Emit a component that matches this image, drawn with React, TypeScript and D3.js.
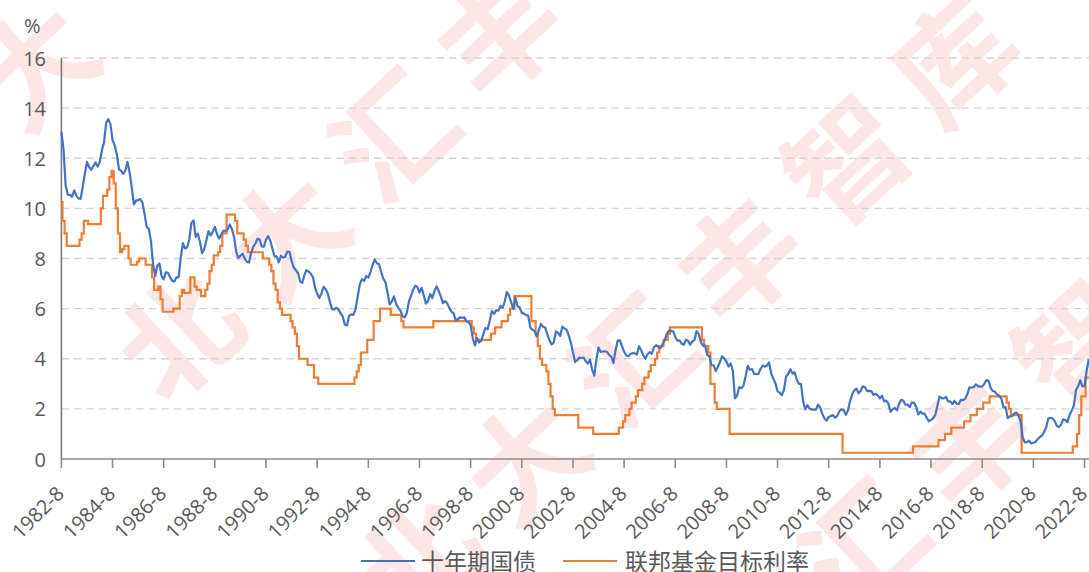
import React from "react";
import * as d3 from "d3";

// ---------- data ----------
const startYear = 1982;
const startMonth = 8;

// 十年期国债 monthly (1982-8 .. 2022-10)
const tenYearYield: number[] = [
  // 1982 Aug-Dec
  13.06, 12.34, 10.91, 10.55, 10.54,
  // 1983
  10.46, 10.72, 10.51, 10.40, 10.38, 10.85, 11.38, 11.85, 11.65, 11.54, 11.69, 11.83,
  // 1984
  11.67, 11.84, 12.32, 12.63, 13.41, 13.56, 13.36, 12.72, 12.52, 12.16, 11.57, 11.50,
  // 1985
  11.38, 11.51, 11.86, 11.43, 10.85, 10.16, 10.31, 10.33, 10.37, 10.24, 9.78, 9.26,
  // 1986
  9.19, 8.70, 7.78, 7.30, 7.71, 7.80, 7.30, 7.17, 7.45, 7.43, 7.25, 7.11,
  // 1987
  7.08, 7.25, 7.25, 8.02, 8.61, 8.40, 8.45, 8.76, 9.42, 9.52, 8.86, 8.99,
  // 1988
  8.67, 8.21, 8.37, 8.72, 9.09, 8.92, 9.06, 9.26, 8.98, 8.80, 8.96, 9.11,
  // 1989
  9.09, 9.17, 9.36, 9.18, 8.86, 8.28, 8.02, 8.11, 8.19, 8.01, 7.87, 7.84,
  // 1990
  8.21, 8.47, 8.59, 8.79, 8.76, 8.48, 8.47, 8.75, 8.89, 8.72, 8.39, 8.08,
  // 1991
  8.09, 7.85, 8.11, 8.04, 8.07, 8.28, 8.27, 7.90, 7.65, 7.53, 7.42, 7.09,
  // 1992
  7.03, 7.34, 7.54, 7.48, 7.39, 7.26, 6.84, 6.59, 6.42, 6.59, 6.87, 6.77,
  // 1993
  6.60, 6.26, 5.98, 5.97, 6.04, 5.96, 5.81, 5.68, 5.36, 5.33, 5.72, 5.77,
  // 1994
  5.75, 5.97, 6.48, 6.97, 7.18, 7.10, 7.30, 7.24, 7.46, 7.74, 7.96, 7.81,
  // 1995
  7.78, 7.47, 7.20, 7.06, 6.63, 6.17, 6.28, 6.49, 6.20, 6.04, 5.93, 5.71,
  // 1996
  5.65, 5.81, 6.27, 6.51, 6.74, 6.91, 6.87, 6.64, 6.83, 6.53, 6.20, 6.30,
  // 1997
  6.58, 6.42, 6.69, 6.89, 6.71, 6.49, 6.22, 6.30, 6.21, 6.03, 5.88, 5.81,
  // 1998
  5.54, 5.57, 5.65, 5.64, 5.65, 5.50, 5.46, 5.34, 4.81, 4.53, 4.83, 4.65,
  // 1999
  4.72, 5.00, 5.23, 5.18, 5.54, 5.90, 5.79, 5.94, 5.92, 6.11, 6.03, 6.28,
  // 2000
  6.66, 6.52, 6.26, 5.99, 6.44, 6.10, 6.05, 5.83, 5.80, 5.74, 5.72, 5.24,
  // 2001
  5.16, 5.10, 4.89, 5.14, 5.39, 5.28, 5.24, 4.97, 4.73, 4.57, 4.65, 5.09,
  // 2002
  5.04, 4.91, 5.28, 5.21, 5.16, 4.93, 4.65, 4.26, 3.87, 3.94, 4.05, 4.03,
  // 2003
  4.05, 3.90, 3.81, 3.96, 3.57, 3.33, 3.98, 4.45, 4.27, 4.29, 4.30, 4.27,
  // 2004
  4.15, 4.08, 3.83, 4.35, 4.72, 4.73, 4.50, 4.28, 4.13, 4.10, 4.19, 4.23,
  // 2005
  4.22, 4.17, 4.50, 4.34, 4.14, 4.00, 4.18, 4.26, 4.20, 4.46, 4.54, 4.47,
  // 2006
  4.42, 4.57, 4.72, 4.99, 5.11, 5.11, 5.09, 4.88, 4.72, 4.73, 4.60, 4.56,
  // 2007
  4.76, 4.72, 4.56, 4.69, 4.75, 5.10, 5.00, 4.67, 4.52, 4.53, 4.15, 4.10,
  // 2008
  3.74, 3.74, 3.51, 3.68, 3.88, 4.10, 4.01, 3.89, 3.69, 3.81, 3.53, 2.42,
  // 2009
  2.52, 2.87, 2.82, 2.93, 3.29, 3.72, 3.56, 3.59, 3.40, 3.39, 3.40, 3.59,
  // 2010
  3.73, 3.69, 3.73, 3.85, 3.42, 3.20, 3.01, 2.70, 2.65, 2.54, 2.76, 3.29,
  // 2011
  3.39, 3.58, 3.41, 3.46, 3.17, 3.00, 3.00, 2.30, 1.98, 2.15, 2.01, 1.98,
  // 2012
  1.97, 1.97, 2.17, 2.05, 1.80, 1.62, 1.53, 1.68, 1.72, 1.75, 1.65, 1.72,
  // 2013
  1.91, 1.98, 1.96, 1.76, 1.93, 2.30, 2.58, 2.74, 2.81, 2.62, 2.72, 2.90,
  // 2014
  2.86, 2.71, 2.72, 2.71, 2.56, 2.60, 2.54, 2.42, 2.53, 2.30, 2.33, 2.21,
  // 2015
  1.88, 1.98, 2.04, 1.94, 2.20, 2.36, 2.32, 2.17, 2.17, 2.07, 2.26, 2.24,
  // 2016
  2.09, 1.78, 1.89, 1.81, 1.81, 1.64, 1.50, 1.56, 1.63, 1.76, 2.14, 2.49,
  // 2017
  2.43, 2.42, 2.48, 2.30, 2.30, 2.19, 2.32, 2.21, 2.20, 2.36, 2.35, 2.40,
  // 2018
  2.58, 2.86, 2.84, 2.87, 2.98, 2.91, 2.89, 2.89, 3.00, 3.15, 3.12, 2.83,
  // 2019
  2.71, 2.68, 2.57, 2.53, 2.40, 2.07, 2.06, 1.63, 1.70, 1.71, 1.81, 1.86,
  // 2020
  1.76, 1.50, 0.87, 0.66, 0.67, 0.73, 0.62, 0.65, 0.68, 0.79, 0.87, 0.93,
  // 2021
  1.08, 1.26, 1.61, 1.64, 1.62, 1.52, 1.32, 1.28, 1.37, 1.58, 1.56, 1.47,
  // 2022 Jan-Oct
  1.76, 1.93, 2.13, 2.75, 2.90, 3.14, 2.90, 2.90, 3.52, 3.98,
];

// 联邦基金目标利率: months where the target changes, and the new level
const fedChangeMonths: string[] = [
  "1982-08", "1982-09", "1982-10", "1982-11", "1983-05", "1983-06", "1983-07", "1983-09",
  "1984-03", "1984-04", "1984-06", "1984-07", "1984-08", "1984-09", "1984-10", "1984-11", "1984-12",
  "1985-01", "1985-02", "1985-04", "1985-05", "1985-08", "1985-09", "1985-12",
  "1986-03", "1986-04", "1986-06", "1986-07", "1986-08",
  "1987-01", "1987-04", "1987-05", "1987-06", "1987-09", "1987-11", "1987-12",
  "1988-02", "1988-04", "1988-05", "1988-06", "1988-07", "1988-08", "1988-10", "1988-11", "1988-12",
  "1989-02", "1989-06", "1989-07", "1989-10", "1989-11", "1989-12",
  "1990-07", "1990-10", "1990-11", "1990-12",
  "1991-01", "1991-02", "1991-03", "1991-04", "1991-08", "1991-09", "1991-10", "1991-11", "1991-12",
  "1992-04", "1992-07", "1992-09",
  "1994-02", "1994-03", "1994-04", "1994-05", "1994-08", "1994-11",
  "1995-02", "1995-07", "1995-12", "1996-01", "1997-03",
  "1998-09", "1998-10", "1998-11", "1999-06", "1999-08", "1999-11",
  "2000-02", "2000-03", "2000-05",
  "2001-01", "2001-03", "2001-04", "2001-05", "2001-06", "2001-08", "2001-09", "2001-10", "2001-11", "2001-12",
  "2002-11", "2003-06",
  "2004-06", "2004-08", "2004-09", "2004-11", "2004-12",
  "2005-02", "2005-03", "2005-05", "2005-06", "2005-08", "2005-09", "2005-11", "2005-12",
  "2006-01", "2006-03", "2006-05", "2006-06",
  "2007-09", "2007-10", "2007-12", "2008-01", "2008-03", "2008-04", "2008-10",
  "2013-03", "2015-12", "2016-12", "2017-03", "2017-06", "2017-12",
  "2018-03", "2018-06", "2018-09", "2018-12", "2019-08", "2019-09", "2019-10",
  "2020-03", "2022-03", "2022-05", "2022-06", "2022-07", "2022-09",
];
const fedChangeRates: number[] = [
  10.25, 9.5, 9.0, 8.5, 8.75, 9.0, 9.5, 9.375,
  10.0, 10.5, 10.75, 11.25, 11.5, 11.0, 10.0, 9.0, 8.25,
  8.375, 8.5, 8.0, 7.75, 7.875, 8.0, 7.75,
  7.25, 6.75, 6.875, 6.375, 5.875,
  6.0, 6.5, 6.75, 6.625, 7.25, 6.875, 6.75,
  6.5, 6.75, 7.0, 7.5, 7.75, 8.125, 8.25, 8.5, 9.0,
  9.75, 9.5, 9.0, 8.75, 8.5, 8.25,
  8.0, 7.75, 7.5, 7.0,
  6.75, 6.25, 6.0, 5.75, 5.5, 5.25, 5.0, 4.5, 4.0,
  3.75, 3.25, 3.0,
  3.25, 3.5, 3.75, 4.25, 4.75, 5.5,
  6.0, 5.75, 5.5, 5.25, 5.5,
  5.25, 5.0, 4.75, 5.0, 5.25, 5.5,
  5.75, 6.0, 6.5,
  5.5, 5.0, 4.5, 4.0, 3.75, 3.5, 3.0, 2.5, 2.0, 1.75,
  1.25, 1.0,
  1.25, 1.5, 1.75, 2.0, 2.25,
  2.5, 2.75, 3.0, 3.25, 3.5, 3.75, 4.0, 4.25,
  4.5, 4.75, 5.0, 5.25,
  4.75, 4.5, 4.25, 3.0, 2.25, 2.0, 1.0,
  0.25, 0.5, 0.75, 1.0, 1.25, 1.5,
  1.75, 2.0, 2.25, 2.5, 2.25, 2.0, 1.75,
  0.25, 0.5, 1.0, 1.75, 2.5, 3.25,
];
const fedLastMonth = "2022-10";

const yTicks: number[] = [0, 2, 4, 6, 8, 10, 12, 14, 16];
const xTickLabels: string[] = [
  "1982-8", "1984-8", "1986-8", "1988-8", "1990-8", "1992-8", "1994-8",
  "1996-8", "1998-8", "2000-8", "2002-8", "2004-8", "2006-8", "2008-8",
  "2010-8", "2012-8", "2014-8", "2016-8", "2018-8", "2020-8", "2022-8",
];
const seriesNames: string[] = ["十年期国债", "联邦基金目标利率"];
const seriesColors: string[] = ["#4472C4", "#ED7D31"];
const watermarkText = "北大汇丰智库";

// ---------- helpers ----------
const monthIndex = (s: string) => {
  const [yy, mm] = s.split("-").map(Number);
  return (yy - startYear) * 12 + (mm - startMonth);
};

const W = 1089;
const H = 572;
const FONT = "'Open Sans', 'Noto Sans', sans-serif";
const CJK = "'Noto Sans CJK SC', 'Noto Sans', sans-serif";
const TEXT = "#595959";

export default function App() {
  const x = d3.scaleLinear().domain([0, 480]).range([61.4, 1084.5]);
  const y = d3.scaleLinear().domain([0, 16]).range([459, 58]);

  const blueLine = d3
    .line<number>()
    .x((_, i) => x(i))
    .y((d) => y(d))(tenYearYield) as string;

  // step series: each new level starts half a month before its month (monthly line look)
  const fedPts: [number, number][] = fedChangeMonths.map((m, i) => {
    const idx = monthIndex(m);
    return [i === 0 ? idx : idx - 0.5, fedChangeRates[i]];
  });
  fedPts.push([monthIndex(fedLastMonth), fedChangeRates[fedChangeRates.length - 1]]);
  const orangeLine = d3
    .line<[number, number]>()
    .x((d) => x(d[0]))
    .y((d) => y(d[1]))
    .curve(d3.curveStepAfter)(fedPts) as string;

  // watermark (decorative): position of 4th char for each diagonal line
  const wmAnchors: [number, number][] = [
    [244, -140],
    [495, 30],
    [735, 255],
    [965, 440],
  ];
  const wmStep: [number, number] = [107, -100];
  const wmChars: { ch: string; cx: number; cy: number; k: string }[] = [];
  wmAnchors.forEach((a, li) =>
    watermarkText.split("").forEach((ch, ci) => {
      const cx = a[0] + (ci - 3) * wmStep[0];
      const cy = a[1] + (ci - 3) * wmStep[1];
      if (cx > 10 && cx < W + 5 && cy > 15 && cy < H + 10) {
        wmChars.push({ ch, cx, cy, k: `${li}-${ci}` });
      }
    })
  );

  return (
    <svg
      width={W}
      height={H}
      style={{ position: "absolute", left: 0, top: 0, background: "#fff" }}
    >
      <defs>
        <clipPath id="pageClip">
          <rect x={0} y={0} width={W} height={H} />
        </clipPath>
      </defs>
      {/* watermark */}
      <g fill="#fce6e6" fontFamily={CJK} fontWeight={700} fontSize={118} clipPath="url(#pageClip)">
        {wmChars.map((c) => (
          <text
            key={c.k}
            transform={`translate(${c.cx},${c.cy}) rotate(-43)`}
            textAnchor="middle"
            dominantBaseline="central"
          >
            {c.ch}
          </text>
        ))}
      </g>

      {/* grid */}
      <g>
        {yTicks
          .filter((t) => t > 0)
          .map((t) => (
            <line
              key={t}
              x1={x(0)}
              x2={W}
              y1={y(t)}
              y2={y(t)}
              stroke="#d4d4d4"
              strokeWidth={1.4}
              strokeDasharray="7.5,5"
            />
          ))}
      </g>

      {/* y labels */}
      <g fontFamily={FONT} fontSize={20} fill={TEXT}>
        {yTicks.map((t) => (
          <text key={t} x={46} y={y(t)} textAnchor="end" dominantBaseline="central">
            {t}
          </text>
        ))}
        <text x={24} y={33} fontSize={20}>
          %
        </text>
      </g>

      {/* axes */}
      <line x1={x(0)} x2={x(0)} y1={y(16)} y2={y(0)} stroke="#7a7a7a" strokeWidth={1.6} />
      <line x1={x(0)} x2={W} y1={y(0)} y2={y(0)} stroke="#8c8c8c" strokeWidth={1.6} />
      {xTickLabels.map((lab, k) => (
        <line
          key={lab}
          x1={x(k * 24)}
          x2={x(k * 24)}
          y1={y(0)}
          y2={y(0) + 9}
          stroke="#8c8c8c"
          strokeWidth={1.6}
        />
      ))}
      <g fontFamily={FONT} fontSize={20} fill={TEXT}>
        {xTickLabels.map((lab, k) => (
          <text
            key={lab}
            transform={`translate(${x(k * 24) + 4},${y(0) + 36}) rotate(-45)`}
            textAnchor="end"
          >
            {lab}
          </text>
        ))}
      </g>

      {/* series */}
      <path d={orangeLine} fill="none" stroke={seriesColors[1]} strokeWidth={2.2} />
      <path d={blueLine} fill="none" stroke={seriesColors[0]} strokeWidth={2.2} strokeLinejoin="round" />

      {/* legend */}
      <g fontFamily={CJK} fontSize={23} fill={TEXT}>
        <line x1={361} x2={415} y1={561} y2={561} stroke={seriesColors[0]} strokeWidth={2.2} />
        <text x={421} y={560} dominantBaseline="central">
          {seriesNames[0]}
        </text>
        <line x1={563} x2={617} y1={561} y2={561} stroke={seriesColors[1]} strokeWidth={2.2} />
        <text x={625} y={560} dominantBaseline="central">
          {seriesNames[1]}
        </text>
      </g>
    </svg>
  );
}
